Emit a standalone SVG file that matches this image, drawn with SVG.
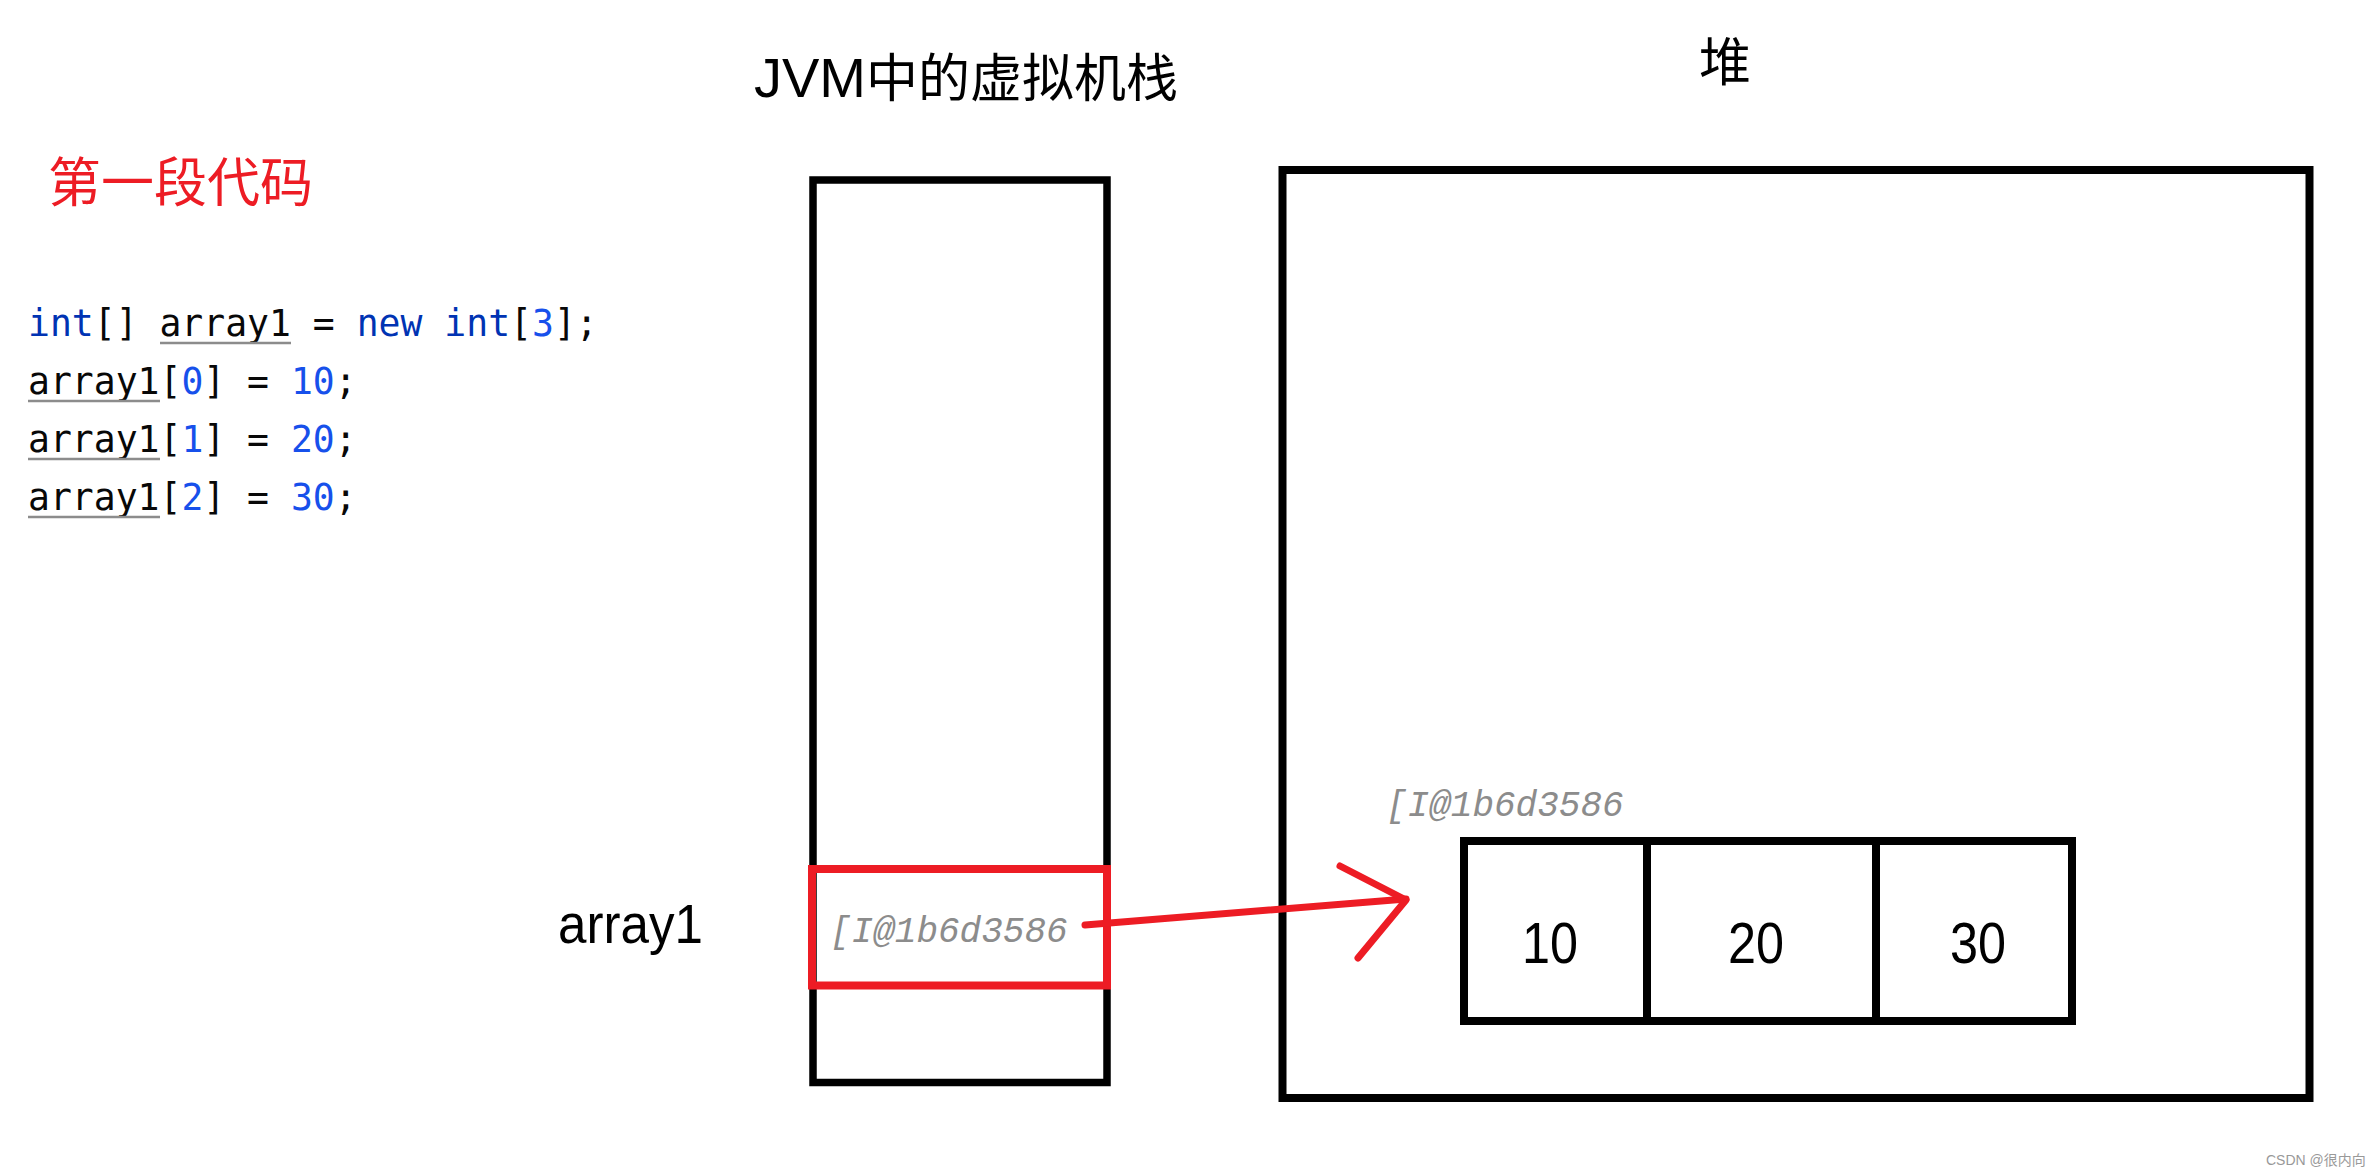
<svg xmlns="http://www.w3.org/2000/svg" width="2379" height="1175" viewBox="0 0 2379 1175">
<style>
.box{fill:none;stroke:#000;stroke-width:8}
.red{fill:none;stroke:#ED1C24;stroke-width:8}
.arrow{fill:none;stroke:#ED1C24;stroke-width:7;stroke-linecap:round;stroke-linejoin:round}
.cjk{font-family:"Noto Sans CJK SC","Liberation Sans",sans-serif;font-size:52px;fill:#000}
.code{font-family:"DejaVu Sans Mono","Liberation Mono",monospace;font-size:36.4px;fill:#080808}
.kw{fill:#0033B3}
.num{fill:#1750EB}
.ul{stroke:#8C8C8C;stroke-width:2.5}
.hint{font-family:"Liberation Mono","DejaVu Sans Mono",monospace;font-style:italic;font-size:36px;fill:#8C8C8C}
.lbl{font-family:"Liberation Sans",Arial,sans-serif;fill:#000}
.val{font-family:"Liberation Sans",Arial,sans-serif;font-size:58px;fill:#000;text-anchor:middle}
</style>
<rect width="2379" height="1175" fill="#fff"/>

<g id="title-code">
<text x="48" y="202" class="cjk" style="fill:#ED1C24;font-size:53px">第一段代码</text>
</g>

<g id="code">
<text class="code" x="28" y="336"><tspan class="kw">int</tspan>[] array1 = <tspan class="kw">new</tspan> <tspan class="kw">int</tspan>[<tspan class="num">3</tspan>];</text>
<text class="code" x="28" y="394">array1[<tspan class="num">0</tspan>] = <tspan class="num">10</tspan>;</text>
<text class="code" x="28" y="452">array1[<tspan class="num">1</tspan>] = <tspan class="num">20</tspan>;</text>
<text class="code" x="28" y="510">array1[<tspan class="num">2</tspan>] = <tspan class="num">30</tspan>;</text>
<line class="ul" x1="160" y1="343" x2="291" y2="343"/>
<line class="ul" x1="28" y1="401" x2="160" y2="401"/>
<line class="ul" x1="28" y1="459" x2="160" y2="459"/>
<line class="ul" x1="28" y1="517" x2="160" y2="517"/>
</g>

<g id="stack-title">
<text x="754" y="97" class="lbl"><tspan font-size="56">JVM</tspan><tspan style="font-family:'Noto Sans CJK SC',sans-serif" font-size="52">中的虚拟机栈</tspan></text>
</g>

<g id="heap-title">
<text x="1725" y="81" class="cjk" text-anchor="middle">堆</text>
</g>

<g id="stack">
<rect class="box" x="813" y="180" width="294" height="902.5" style="stroke-width:7.5"/>
</g>

<g id="heap">
<rect class="box" x="1282.5" y="170" width="1027" height="928"/>
</g>

<g id="array1-label">
<text x="558" y="943" class="lbl" font-size="56" textLength="145" lengthAdjust="spacingAndGlyphs">array1</text>
</g>

<g id="array1-slot">
<rect class="red" x="812" y="869" width="295" height="116.5"/>
<text class="hint" x="830" y="942">[I@1b6d3586</text>
</g>

<g id="heap-array">
<text class="hint" x="1386" y="816">[I@1b6d3586</text>
<rect class="box" x="1464" y="841" width="608" height="180"/>
<line class="box" x1="1647" y1="841" x2="1647" y2="1021"/>
<line class="box" x1="1876" y1="841" x2="1876" y2="1021"/>
<text class="val" x="1550" y="963" textLength="56" lengthAdjust="spacingAndGlyphs">10</text>
<text class="val" x="1756" y="963" textLength="56" lengthAdjust="spacingAndGlyphs">20</text>
<text class="val" x="1978" y="963" textLength="56" lengthAdjust="spacingAndGlyphs">30</text>
</g>

<g id="connectors">
<path class="arrow" d="M1085,925 L1406,899"/>
<path class="arrow" d="M1340,866 L1406,900 L1358,958"/>
</g>

<g id="watermark">
<text x="2266" y="1165" font-family="'Liberation Sans','Noto Sans CJK SC',sans-serif" font-size="14" fill="#999">CSDN @很内向</text>
</g>
</svg>
